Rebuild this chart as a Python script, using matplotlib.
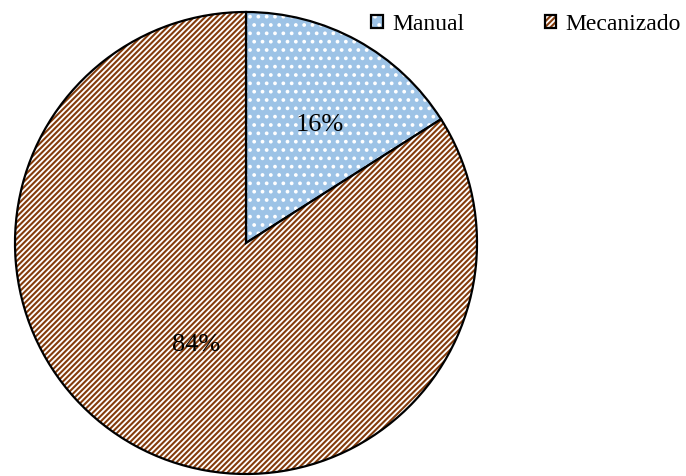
import matplotlib
matplotlib.use("Agg")
from matplotlib import pyplot as plt
from matplotlib.colors import to_rgba

categorias = ["Manual", "Mecanizado"]
valores = [16, 84]
colores = ["#9DC3E6", "white"]
tramas = ["..", "//////"]
color_trama = ["white", "#843C0C"]

plt.rcParams['font.family'] = ['Liberation Serif', 'DejaVu Serif']
plt.rcParams['hatch.linewidth'] = 1.5

fig = plt.figure(figsize=(6.86, 4.76), dpi=100)
ax = fig.add_axes([15 / 686, 2 / 476, 462 / 686, 462 / 476])

wedges, textos, pct = ax.pie(valores, colors=colores, startangle=90, counterclock=False,
                             autopct="%1.0f%%", pctdistance=0.6, radius=1,
                             wedgeprops=dict(edgecolor="black", linewidth=1.6),
                             textprops=dict(fontsize=19))
for w, h, c in zip(wedges, tramas, color_trama):
    w.set_hatch(h)
    w._hatch_color = to_rgba(c)

# posiciones de las etiquetas como en el original
x, y = pct[0].get_position()
pct[0].set_position((x * 1.1, y * 0.97))
x, y = pct[1].get_position()
pct[1].set_position((x * 0.74, y * 0.84))

ax.set_xlim(-1, 1)
ax.set_ylim(-1, 1)
ax.set_aspect("equal")

fig.legend(wedges, categorias, loc="upper right", ncol=2, frameon=False,
           fontsize=17, handlelength=0.5, handleheight=0.5, handletextpad=0.4,
           columnspacing=3.4, bbox_to_anchor=(1.024, 1.016))

plt.savefig("out.png", dpi=100)
